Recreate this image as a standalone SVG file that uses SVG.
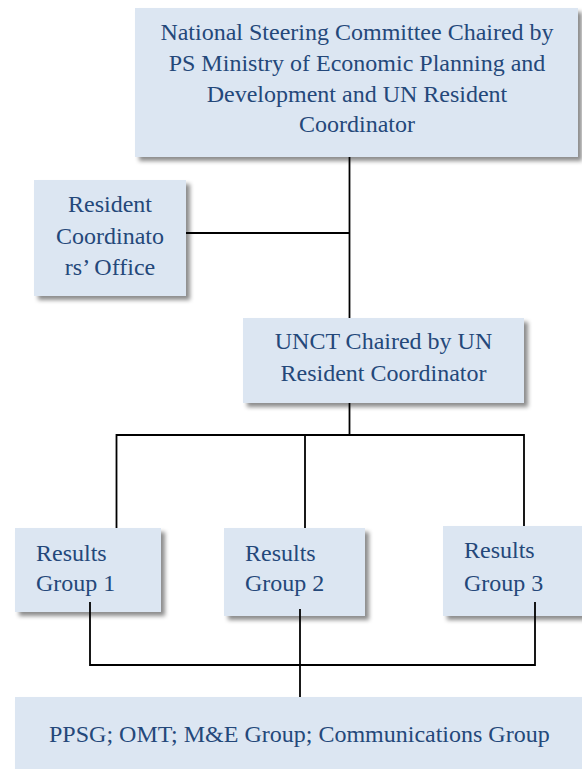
<svg xmlns="http://www.w3.org/2000/svg" width="582" height="769" viewBox="0 0 582 769">
<style>
.box{fill:#DCE6F2;filter:url(#sh)}
.t{font-family:"Liberation Serif","Times New Roman",serif;font-size:24px;fill:#24487A}
.c{text-anchor:middle}
.ln{stroke:#000;stroke-width:1.8;fill:none}
</style>
<defs>
<filter id="sh" x="-10%" y="-10%" width="130%" height="130%">
<feDropShadow dx="4" dy="4" stdDeviation="2" flood-color="#000" flood-opacity="0.45"/>
</filter>
</defs>
<rect width="582" height="769" fill="#fff"/>
<g id="nsc">
<rect class="box" x="135" y="8" width="443" height="149"/>
<text class="t c" x="357" y="40">National Steering Committee Chaired by</text>
<text class="t c" x="357" y="71">PS Ministry of Economic Planning and</text>
<text class="t c" x="357" y="102">Development and UN Resident</text>
<text class="t c" x="357" y="132">Coordinator</text>
</g>
<g id="rco">
<rect class="box" x="34" y="180" width="152" height="116"/>
<text class="t c" x="110" y="212">Resident</text>
<text class="t c" x="110" y="244">Coordinato</text>
<text class="t c" x="110" y="275">rs’ Office</text>
</g>
<g id="unct">
<rect class="box" x="243" y="318" width="281" height="85"/>
<text class="t c" x="383.5" y="349">UNCT Chaired by UN</text>
<text class="t c" x="383.5" y="381">Resident Coordinator</text>
</g>
<g id="rg1">
<rect class="box" x="15" y="528" width="146" height="84"/>
<text class="t" x="36" y="561">Results</text>
<text class="t" x="36" y="591">Group 1</text>
</g>
<g id="rg2">
<rect class="box" x="224" y="528" width="141" height="88"/>
<text class="t" x="245" y="561">Results</text>
<text class="t" x="245" y="591">Group 2</text>
</g>
<g id="rg3">
<rect class="box" x="443" y="526" width="145" height="90"/>
<text class="t" x="464" y="558">Results</text>
<text class="t" x="464" y="591">Group 3</text>
</g>
<g id="groups">
<rect class="box" x="15" y="697" width="575" height="80"/>
<text class="t" x="49" y="742">PPSG; OMT; M&amp;E Group; Communications Group</text>
</g>
<g id="connectors">
<path class="ln" d="M349.5 157V318"/>
<path class="ln" d="M186 233H349.5"/>
<path class="ln" d="M349.5 403V435"/>
<path class="ln" d="M116.5 528V435H524V526"/>
<path class="ln" d="M305 435V528"/>
<path class="ln" d="M90 602V665H535V602"/>
<path class="ln" d="M300 609V697"/>
</g>
</svg>
